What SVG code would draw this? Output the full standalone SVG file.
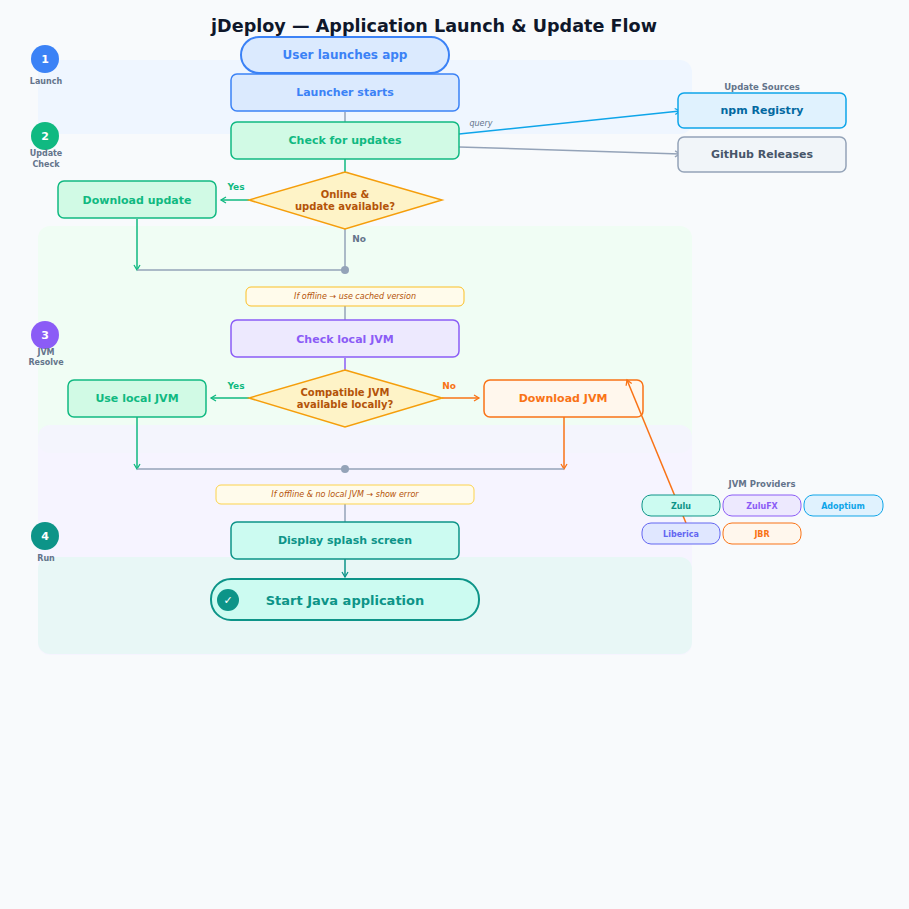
<svg xmlns="http://www.w3.org/2000/svg" width="909" height="909" viewBox="0 0 909 909">
<defs>
<style>
text{font-family:"DejaVu Sans",sans-serif;text-anchor:middle;dominant-baseline:central}
.b{font-weight:bold;font-size:11px}
.st{font-size:8px;fill:#64748b;font-weight:bold}
.note{font-size:8px;font-style:italic;fill:#b45309}
.lbl{font-size:9px;font-weight:bold}
.c{fill:none;stroke-width:1.5}
</style>
<marker id="ag" markerWidth="8" markerHeight="8" refX="6" refY="4" orient="auto" markerUnits="userSpaceOnUse"><path d="M1,1 L6,4 L1,7" fill="none" stroke="#10b981" stroke-width="1.3"/></marker>
<marker id="ao" markerWidth="8" markerHeight="8" refX="6" refY="4" orient="auto" markerUnits="userSpaceOnUse"><path d="M1,1 L6,4 L1,7" fill="none" stroke="#f97316" stroke-width="1.3"/></marker>
<marker id="ap" markerWidth="8" markerHeight="8" refX="6" refY="4" orient="auto" markerUnits="userSpaceOnUse"><path d="M1,1 L6,4 L1,7" fill="none" stroke="#8b5cf6" stroke-width="1.3"/></marker>
<marker id="at" markerWidth="8" markerHeight="8" refX="6" refY="4" orient="auto" markerUnits="userSpaceOnUse"><path d="M1,1 L6,4 L1,7" fill="none" stroke="#0d9488" stroke-width="1.3"/></marker>
<marker id="as" markerWidth="8" markerHeight="8" refX="6" refY="4" orient="auto" markerUnits="userSpaceOnUse"><path d="M1,1 L6,4 L1,7" fill="none" stroke="#0ea5e9" stroke-width="1.3"/></marker>
<marker id="ay" markerWidth="8" markerHeight="8" refX="6" refY="4" orient="auto" markerUnits="userSpaceOnUse"><path d="M1,1 L6,4 L1,7" fill="none" stroke="#94a3b8" stroke-width="1.3"/></marker>
</defs>
<rect width="909" height="909" fill="#f8fafc"/>
<g id="bands">
<rect x="38" y="60" width="654" height="74" rx="12" fill="#eff6ff"/>
<rect x="38" y="226" width="654" height="227" rx="12" fill="#f0fdf4"/>
<rect x="38" y="425" width="654" height="230" rx="12" fill="#f5f3ff" opacity="0.8"/>
<rect x="38" y="557" width="654" height="97" rx="12" fill="#e8f7f6"/>
</g>
<text x="434" y="26" style="font-size:17.6px;font-weight:bold;fill:#0f172a">jDeploy — Application Launch &amp; Update Flow</text>
<g id="steps">
<circle cx="45" cy="59" r="14" fill="#3b82f6"/><text x="45" y="59" class="b" fill="#fff">1</text><text x="46" y="81" class="st">Launch</text>
<circle cx="45" cy="136" r="14" fill="#10b981"/><text x="45" y="136" class="b" fill="#fff">2</text><text x="46" y="153" class="st">Update</text><text x="46" y="164" class="st">Check</text>
<circle cx="45" cy="335" r="14" fill="#8b5cf6"/><text x="45" y="335" class="b" fill="#fff">3</text><text x="46" y="352" class="st">JVM</text><text x="46" y="362" class="st">Resolve</text>
<circle cx="45" cy="536" r="14" fill="#0d9488"/><text x="45" y="536" class="b" fill="#fff">4</text><text x="46" y="558" class="st">Run</text>
</g>
<g id="connectors">
<line x1="345" y1="112" x2="345" y2="122" class="c" stroke="#94a3b8"/>
<line x1="345" y1="159" x2="345" y2="177" class="c" stroke="#10b981" marker-end="url(#ag)"/>
<line x1="249" y1="200" x2="221" y2="200" class="c" stroke="#10b981" marker-end="url(#ag)"/>
<line x1="345" y1="229" x2="345" y2="270" class="c" stroke="#94a3b8"/>
<line x1="137" y1="219" x2="137" y2="270" class="c" stroke="#10b981" marker-end="url(#ag)"/>
<line x1="137" y1="270" x2="345" y2="270" class="c" stroke="#94a3b8"/>
<circle cx="345" cy="270" r="4" fill="#94a3b8"/>
<line x1="345" y1="306" x2="345" y2="320" class="c" stroke="#94a3b8"/>
<line x1="345" y1="358" x2="345" y2="375" class="c" stroke="#8b5cf6" marker-end="url(#ap)"/>
<line x1="249" y1="398" x2="211" y2="398" class="c" stroke="#10b981" marker-end="url(#ag)"/>
<line x1="442" y1="398" x2="479" y2="398" class="c" stroke="#f97316" marker-end="url(#ao)"/>
<line x1="137" y1="417" x2="137" y2="469" class="c" stroke="#10b981" marker-end="url(#ag)"/>
<line x1="564" y1="417" x2="564" y2="469" class="c" stroke="#f97316" marker-end="url(#ao)"/>
<line x1="137" y1="469" x2="564" y2="469" class="c" stroke="#94a3b8"/>
<circle cx="345" cy="469" r="4" fill="#94a3b8"/>
<line x1="345" y1="504" x2="345" y2="522" class="c" stroke="#94a3b8"/>
<line x1="345" y1="559" x2="345" y2="577" class="c" stroke="#0d9488" marker-end="url(#at)"/>
<line x1="459" y1="134" x2="680" y2="111" class="c" stroke="#0ea5e9" marker-end="url(#as)" stroke-width="1.3"/>
<text x="481" y="123" style="font-size:8px;font-style:italic;fill:#64748b">query</text>
<line x1="459" y1="147" x2="680" y2="154" class="c" stroke="#94a3b8" marker-end="url(#ay)" stroke-width="1.3"/>
<text x="236" y="187" class="lbl" fill="#10b981">Yes</text>
<text x="359" y="239" class="lbl" fill="#64748b">No</text>
<text x="236" y="386" class="lbl" fill="#10b981">Yes</text>
<text x="449" y="386" class="lbl" fill="#f97316">No</text>
</g>
<g id="n-user"><rect x="241" y="37" width="208" height="36" rx="18" fill="#dbeafe" stroke="#3b82f6" stroke-width="2"/><text x="345" y="55" class="b" style="font-size:12px" fill="#3b82f6">User launches app</text></g>
<g id="n-launcher"><rect x="231" y="74" width="228" height="37" rx="6" fill="#dbeafe" stroke="#3b82f6" stroke-width="1.5"/><text x="345" y="92" class="b" fill="#3b82f6">Launcher starts</text></g>
<g id="n-check"><rect x="231" y="122" width="228" height="37" rx="6" fill="#d1fae5" stroke="#10b981" stroke-width="1.5"/><text x="345" y="140" class="b" fill="#10b981">Check for updates</text></g>
<g id="n-online"><polygon points="345,172 442,200 345,229 249,200" fill="#fef3c7" stroke="#f59e0b" stroke-width="1.5"/><text x="345" y="194" class="b" style="font-size:10px" fill="#b45309">Online &amp;</text><text x="345" y="206" class="b" style="font-size:10px" fill="#b45309">update available?</text></g>
<g id="n-dlupdate"><rect x="58" y="181" width="158" height="37" rx="6" fill="#d1fae5" stroke="#10b981" stroke-width="1.5"/><text x="137" y="200" class="b" fill="#10b981">Download update</text></g>
<g id="n-note1"><rect x="246" y="287" width="218" height="19" rx="5" fill="#fffbeb" stroke="#fbbf24"/><text x="355" y="296" class="note">If offline → use cached version</text></g>
<g id="n-checkjvm"><rect x="231" y="320" width="228" height="37" rx="6" fill="#ede9fe" stroke="#8b5cf6" stroke-width="1.5"/><text x="345" y="339" class="b" fill="#8b5cf6">Check local JVM</text></g>
<g id="n-compat"><polygon points="345,370 442,398 345,427 249,398" fill="#fef3c7" stroke="#f59e0b" stroke-width="1.5"/><text x="345" y="392" class="b" style="font-size:10px" fill="#b45309">Compatible JVM</text><text x="345" y="404" class="b" style="font-size:10px" fill="#b45309">available locally?</text></g>
<g id="n-uselocal"><rect x="68" y="380" width="138" height="37" rx="6" fill="#d1fae5" stroke="#10b981" stroke-width="1.5"/><text x="137" y="398" class="b" fill="#10b981">Use local JVM</text></g>
<g id="n-dljvm"><rect x="484" y="380" width="159" height="37" rx="6" fill="#fff7ed" stroke="#f97316" stroke-width="1.5"/><text x="563" y="398" class="b" fill="#f97316">Download JVM</text></g>
<g id="n-note2"><rect x="216" y="485" width="258" height="19" rx="5" fill="#fffbeb" stroke="#fcd34d"/><text x="345" y="494" class="note">If offline &amp; no local JVM → show error</text></g>
<g id="n-splash"><rect x="231" y="522" width="228" height="37" rx="6" fill="#ccfbf1" stroke="#0d9488" stroke-width="1.5"/><text x="345" y="540" class="b" fill="#0d9488">Display splash screen</text></g>
<g id="n-start"><rect x="211" y="579" width="268" height="41" rx="20" fill="#ccfbf1" stroke="#0d9488" stroke-width="2"/><circle cx="228" cy="600" r="11" fill="#0d9488"/><text x="228" y="600" class="b" fill="#fff">✓</text><text x="345" y="600" class="b" style="font-size:13px" fill="#0d9488">Start Java application</text></g>
<g id="sources">
<text x="762" y="87" class="st" style="font-size:8.5px">Update Sources</text>
<g id="n-npm"><rect x="678" y="93" width="168" height="35" rx="6" fill="#e0f2fe" stroke="#0ea5e9" stroke-width="1.5"/><text x="762" y="110" class="b" fill="#0369a1">npm Registry</text></g>
<g id="n-gh"><rect x="678" y="137" width="168" height="35" rx="6" fill="#f1f5f9" stroke="#94a3b8" stroke-width="1.5"/><text x="762" y="154" class="b" fill="#475569">GitHub Releases</text></g>
</g>
<g id="provider-link"><line x1="686" y1="523" x2="627" y2="380" class="c" stroke="#f97316" marker-end="url(#ao)" stroke-width="1.3"/></g>
<g id="providers">
<text x="762" y="484" class="st" style="font-size:8.5px">JVM Providers</text>
<g id="p-zulu"><rect x="642" y="495" width="78" height="21" rx="9" fill="#ccfbf1" stroke="#0d9488"/><text x="681" y="506" class="lbl" style="font-size:8px" fill="#0d9488">Zulu</text></g>
<g id="p-zulufx"><rect x="723" y="495" width="78" height="21" rx="9" fill="#ede9fe" stroke="#8b5cf6"/><text x="762" y="506" class="lbl" style="font-size:8px" fill="#8b5cf6">ZuluFX</text></g>
<g id="p-adopt"><rect x="804" y="495" width="79" height="21" rx="9" fill="#e0f2fe" stroke="#0ea5e9"/><text x="843" y="506" class="lbl" style="font-size:8px" fill="#0ea5e9">Adoptium</text></g>
<g id="p-lib"><rect x="642" y="523" width="78" height="21" rx="9" fill="#e0e7ff" stroke="#6366f1"/><text x="681" y="534" class="lbl" style="font-size:8px" fill="#6366f1">Liberica</text></g>
<g id="p-jbr"><rect x="723" y="523" width="78" height="21" rx="9" fill="#fff7ed" stroke="#f97316"/><text x="762" y="534" class="lbl" style="font-size:8px" fill="#f97316">JBR</text></g>
</g>
</svg>
